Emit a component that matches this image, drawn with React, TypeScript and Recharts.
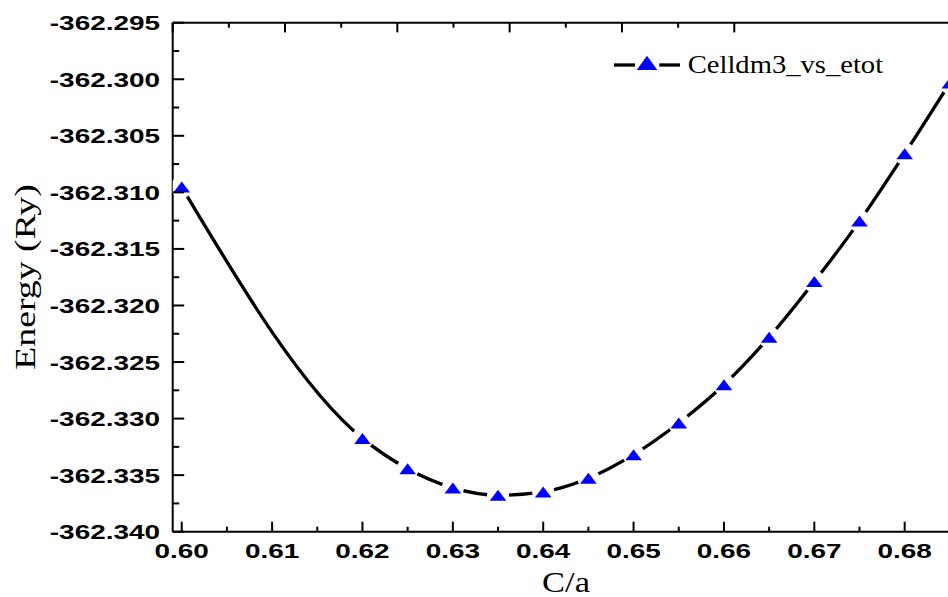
import { LineChart, Line, XAxis, YAxis, Legend } from 'recharts'

// c/a ratio vs total energy (Ry)
const CA = [0.6, 0.62, 0.625, 0.63, 0.635, 0.64, 0.645, 0.65, 0.655, 0.66, 0.665, 0.67, 0.675, 0.68, 0.685]
const ETOT = [
  -362.30953, -362.33175, -362.33444, -362.33613, -362.33678, -362.33648, -362.33528,
  -362.33319, -362.33039, -362.32701, -362.32281, -362.31789, -362.31254, -362.30658,
  -362.30033,
]

const X_MAJOR = [0.6, 0.61, 0.62, 0.63, 0.64, 0.65, 0.66, 0.67, 0.68]
const X_MINOR = [0.605, 0.615, 0.625, 0.635, 0.645, 0.655, 0.665, 0.675, 0.685]
const Y_MAJOR = [-362.34, -362.335, -362.33, -362.325, -362.32, -362.315, -362.31, -362.305, -362.3, -362.295]
const Y_MINOR = [-362.3375, -362.3325, -362.3275, -362.3225, -362.3175, -362.3125, -362.3075, -362.3025, -362.2975]
// frame axes (top / right) carry their own unlabeled scale
const TOP_TICKS = [0, 1, 2, 3, 4, 5, 6, 7, 8, 9, 10]
const RIGHT_TICKS = [0, 1, 2, 3, 4, 5]

const SERIES_NAME = 'Celldm3_vs_etot'

const data = CA.map((c, i) => ({ ca: c, etot: ETOT[i] }))

const boldFont = { fontFamily: '"Liberation Sans", Arial, sans-serif', fontWeight: 700, fontSize: 21 }
const serifFont = { fontFamily: '"Liberation Serif", "Times New Roman", serif' }

function Triangle({ cx, cy }: any) {
  if (cx == null || cy == null) return null
  return (
    <g>
      <circle cx={cx} cy={cy} r={11} fill="#fff" />
      <polygon points={`${cx},${cy - 5.5} ${cx + 8.3},${cy + 5.5} ${cx - 8.3},${cy + 5.5}`} fill="#0000ff" />
    </g>
  )
}

function BottomTick({ x, y, payload }: any) {
  const major = X_MAJOR.includes(payload.value)
  return (
    <g>
      <line x1={x} x2={x} y1={y} y2={y - (major ? 10 : 5)} stroke="#000" strokeWidth={2} />
      {major && (
        <text transform={`translate(${x},${y + 26.6}) scale(1.33,1)`} textAnchor="middle" style={boldFont} fill="#000">
          {payload.value.toFixed(2)}
        </text>
      )}
    </g>
  )
}

function LeftTick({ x, y, payload }: any) {
  const major = Y_MAJOR.includes(payload.value)
  return (
    <g>
      <line x1={x} x2={x + (major ? 11.5 : 6.5)} y1={y} y2={y} stroke="#000" strokeWidth={2} />
      {major && (
        <text transform={`translate(${x - 12.7},${y + 7.5}) scale(1.33,1)`} textAnchor="end" style={boldFont} fill="#000">
          {payload.value.toFixed(3)}
        </text>
      )}
    </g>
  )
}

function TopTick({ x, y, payload }: any) {
  const major = payload.value % 2 === 0
  return <line x1={x} x2={x} y1={y} y2={y + (major ? 9.7 : 5)} stroke="#000" strokeWidth={2} />
}

function RightTick({ x, y }: any) {
  return <line x1={x} x2={x - 12} y1={y} y2={y} stroke="#000" strokeWidth={2} />
}

function LegendBox() {
  return (
    <svg width={300} height={40} style={{ display: 'block', overflow: 'visible' }}>
      <line x1={0} x2={21} y1={20} y2={20} stroke="#000" strokeWidth={3.3} />
      <line x1={45.3} x2={66} y1={20} y2={20} stroke="#000" strokeWidth={3.3} />
      <polygon points="33,10.7 43.3,25 22.7,25" fill="#0000ff" />
      <text transform="translate(73.7,27.7) scale(1.1,1)" style={{ ...serifFont, fontSize: 26 }} fill="#000">
        {SERIES_NAME}
      </text>
    </svg>
  )
}

const XTitle = () => (
  <text transform="translate(558,584) scale(1.15,1)" textAnchor="middle" style={{ ...serifFont, fontSize: 30 }} fill="#000">
    C/a
  </text>
)

const YTitle = () => (
  <text transform="translate(27,269) rotate(-90) scale(1.26,1)" textAnchor="middle" style={{ ...serifFont, fontSize: 30 }} fill="#000">
    Energy (Ry)
  </text>
)

const axisLine = { stroke: '#000', strokeWidth: 2 }

export default function App() {
  return (
    <div style={{ position: 'absolute', left: 8, top: 8, width: 940, height: 589, overflow: 'hidden' }}>
      <LineChart width={980} height={589} data={data} margin={{ top: 13.7, right: 28.1, bottom: 15.3, left: 64.7 }}>
        <Line
          type="monotone"
          dataKey="etot"
          name={SERIES_NAME}
          stroke="#000"
          strokeWidth={3.3}
          dot={<Triangle />}
          activeDot={false}
          isAnimationActive={false}
        />
        <XAxis
          dataKey="ca"
          type="number"
          domain={[0.599, 0.686]}
          allowDataOverflow
          ticks={[...X_MAJOR, ...X_MINOR].sort((a, b) => a - b)}
          interval={0}
          tick={<BottomTick />}
          tickLine={false}
          tickSize={0}
          tickMargin={0}
          axisLine={axisLine}
          height={50}
          label={XTitle}
        />
        <XAxis
          xAxisId="top"
          orientation="top"
          type="number"
          domain={[0, 10]}
          ticks={TOP_TICKS}
          interval={0}
          tick={<TopTick />}
          tickLine={false}
          tickSize={0}
          tickMargin={0}
          axisLine={axisLine}
          height={1}
        />
        <YAxis
          type="number"
          domain={[-362.34, -362.295]}
          allowDataOverflow
          ticks={[...Y_MAJOR, ...Y_MINOR].sort((a, b) => a - b)}
          interval={0}
          tick={<LeftTick />}
          tickLine={false}
          tickSize={0}
          tickMargin={0}
          axisLine={axisLine}
          width={100}
          label={YTitle}
        />
        <YAxis
          yAxisId="right"
          orientation="right"
          type="number"
          domain={[0, 5]}
          ticks={RIGHT_TICKS}
          interval={0}
          tick={<RightTick />}
          tickLine={false}
          tickSize={0}
          tickMargin={0}
          axisLine={axisLine}
          width={1}
        />
        <Legend
          layout="vertical"
          align="center"
          verticalAlign="middle"
          wrapperStyle={{ left: 606, top: 37, width: 300 }}
          content={() => <LegendBox />}
        />
      </LineChart>
    </div>
  )
}
